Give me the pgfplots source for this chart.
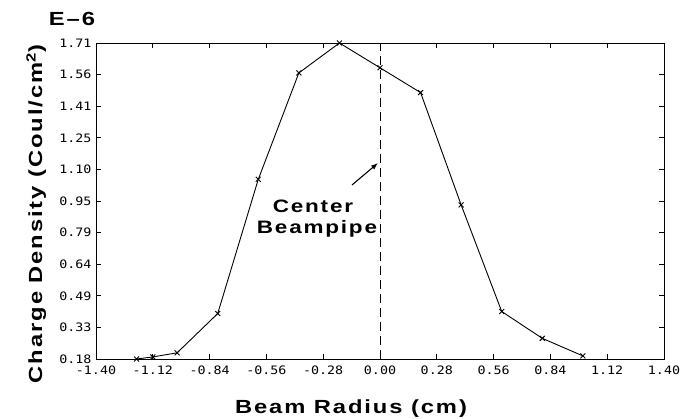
\documentclass[border=0pt]{standalone}
\usepackage{fontspec}
\setmainfont{Liberation Sans}
\newfontfamily\lblfont[FakeStretch=1.25,LetterSpace=10]{Liberation Sans Bold}
\newfontfamily\tickfont[FakeStretch=1.15]{DejaVu Sans Mono}
\usepackage{pgfplots}
\pgfplotsset{compat=1.18}
\usetikzlibrary{arrows.meta}
\begin{document}
\begin{tikzpicture}[x=1pt,y=1pt]
\useasboundingbox (0,0) rectangle (683,419);
\begin{axis}[
  at={(96pt,60pt)}, anchor=south west,
  scale only axis, width=568pt, height=316pt,
  xmin=-1.40, xmax=1.40, ymin=0.18, ymax=1.71,
  axis line style={line width=0.9pt},
  tick style={line width=0.7pt, black},
  major tick length=5pt,
  tick align=inside, tick pos=both,
  xtick={-1.40,-1.12,-0.84,-0.56,-0.28,0,0.28,0.56,0.84,1.12,1.40},
  xticklabels={-1.40,-1.12,-0.84,-0.56,-0.28,0.00,0.28,0.56,0.84,1.12,1.40},
  ytick={0.18,0.333,0.486,0.639,0.792,0.945,1.098,1.251,1.404,1.557,1.71},
  yticklabels={0.18,0.33,0.49,0.64,0.79,0.95,1.10,1.25,1.41,1.56,1.71},
  ticklabel style={font=\tickfont\fontsize{11.6}{12}\selectfont},
  xticklabel style={yshift=-3pt},
  yticklabel style={xshift=-1pt},
]
\addplot[black, line width=0.9pt, mark=x, mark size=3.5pt] coordinates {
(-1.20,0.18) (-1.12,0.19) (-1.00,0.21) (-0.80,0.40) (-0.60,1.05)
(-0.40,1.565) (-0.20,1.71) (0.00,1.59) (0.20,1.47) (0.40,0.926)
(0.60,0.41) (0.80,0.28) (1.00,0.195)
};
\addplot[black, line width=0.9pt, dash pattern=on 9pt off 5pt] coordinates {(0,0.18) (0,1.71)};
\end{axis}
\node[anchor=base, font=\lblfont\fontsize{19}{21}\selectfont] at (351,5) {Beam Radius (cm)};
\node[anchor=base, rotate=90, font=\lblfont\fontsize{19}{21}\selectfont] at (42,205) {Charge Density (Coul/cm\textsuperscript{2})};
\node[anchor=center, font=\lblfont\fontsize{19}{21}\selectfont] at (72,400) {E\textendash 6};
\node[anchor=base, font=\lblfont\fontsize{18}{20}\selectfont] at (313,206) {Center};
\node[anchor=base, font=\lblfont\fontsize{18}{20}\selectfont] at (317,185) {Beampipe};
\draw[line width=1.1pt, -{Latex[length=7pt,width=5pt]}] (352,234) -- (378,256);
\end{tikzpicture}
\end{document}
